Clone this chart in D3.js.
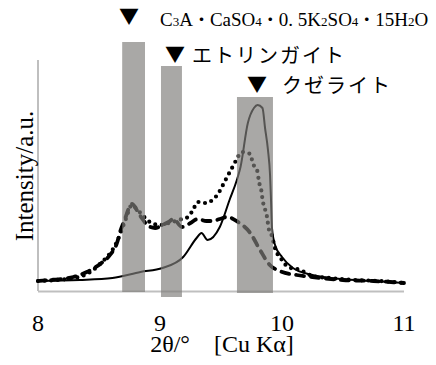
<!DOCTYPE html>
<html><head><meta charset="utf-8">
<script src="https://cdn.jsdelivr.net/npm/d3@7"></script>
<style>html,body{margin:0;padding:0;background:#fff;}svg{display:block;}</style>
</head><body>
<svg id="chart" width="436" height="365"></svg>
<script>
// 2θ (deg) vs intensity (a.u.)
const solidTheta = [8.00,8.34,8.61,8.84,9.02,9.19,9.30,9.34,9.39,9.49,9.57,9.63,9.66,9.72,9.77,9.80,9.84,9.861,9.885,9.902,9.910,9.918,9.943,10.00,10.09,10.25,10.48,10.75,11.00];
const solidI     = [10,11,13,19,23,34,53,58,51,64,91,111,124,168,183,186,183,163,141,116,91,63,46,34,23,16,12,10,8];

const dottedTheta = [8.00,8.30,8.50,8.65,8.72,8.77,8.81,8.84,8.93,9.00,9.10,9.18,9.23,9.27,9.31,9.37,9.43,9.48,9.52,9.55,9.59,9.63,9.67,9.74,9.76,9.80,9.81,9.83,9.84,9.88,9.89,9.92,9.94,10.00,10.05,10.15,10.25,10.39,10.60,10.80,11.00];
const dottedI     = [10,13,26,50,72,86,82,78,68,66,69,72,74,81,89,88,91,98,107,114,123,132,139,137,128,119,110,101,92,72,63,54,44,31,24,21,15,13,11,10,8];

const dashedTheta = [8.00,8.10,8.29,8.40,8.52,8.59,8.65,8.67,8.71,8.75,8.77,8.81,8.85,8.92,8.96,9.02,9.07,9.11,9.18,9.25,9.31,9.38,9.43,9.49,9.55,9.64,9.74,9.82,9.90,9.98,10.12,10.25,10.50,10.75,11.00];
const dashedI     = [10,11,14,19,28,36,49,58,71,84,87,81,73,64,63,66,69,72,64,68,72,70,70,72,74,69,58,41,26,20,16,14,11,10,8];

// shaded peak bands: [start, end] in 2θ, [bottom, top] in intensity units
const bandStart = [8.69, 9.008, 9.631];
const bandEnd   = [8.877, 9.18, 9.926];
const bandBottom = [-1, -6, -2];
const bandTop    = [249, 225, 194];

const xTicks = [8, 9, 10, 11];
const peakLabels = ["C₃A・CaSO₄・0.5K₂SO₄・15H₂O", "エトリンガイト", "クゼライト"];

const svg = d3.select("#chart");
const x = d3.scaleLinear().domain([8, 11]).range([38, 404]);
const y = d3.scaleLinear().domain([0, 231]).range([291, 60]);

const serif = "Liberation Serif, DejaVu Serif, serif";
const jp = "Noto Sans CJK JP, Noto Sans CJK SC, sans-serif";

// axes lines
svg.append("line").attr("x1", x(8)).attr("x2", x(8)).attr("y1", y(0)).attr("y2", y(231))
  .attr("stroke", "#bfbfbf").attr("stroke-width", 2);
svg.append("line").attr("x1", x(8)).attr("x2", x(11)).attr("y1", y(0)+0.5).attr("y2", y(0)+0.5)
  .attr("stroke", "#bfbfbf").attr("stroke-width", 2);

// tick labels
svg.selectAll("text.xt").data(xTicks).enter().append("text")
  .attr("class", "xt").attr("x", d => x(d)).attr("y", 331)
  .attr("text-anchor", "middle").attr("font-family", serif).attr("font-size", 24)
  .attr("fill", "#000").text(d => d);

svg.append("text").attr("x", 222).attr("y", 352).attr("text-anchor", "middle")
  .attr("font-family", serif).attr("font-size", 24).attr("fill", "#000")
  .text("2θ/°\u3000[Cu Kα]");

svg.append("text").attr("transform", "translate(33,176) rotate(-90)")
  .attr("text-anchor", "middle").attr("font-family", serif).attr("font-size", 25)
  .attr("fill", "#000").text("Intensity/a.u.");

const line = d3.line().x(d => x(d[0])).y(d => y(d[1])).curve(d3.curveMonotoneX);

svg.append("path").datum(d3.zip(solidTheta, solidI)).attr("d", line)
  .attr("fill", "none").attr("stroke", "#000").attr("stroke-width", 2);
svg.append("path").datum(d3.zip(dottedTheta, dottedI)).attr("d", line)
  .attr("fill", "none").attr("stroke", "#000").attr("stroke-width", 4.2)
  .attr("stroke-linecap", "round").attr("stroke-dasharray", "0,6.6");
svg.append("path").datum(d3.zip(dashedTheta, dashedI)).attr("d", line)
  .attr("fill", "none").attr("stroke", "#000").attr("stroke-width", 3.8)
  .attr("stroke-linecap", "round").attr("stroke-dasharray", "8,7");

// bands (semi-transparent over curves)
svg.selectAll("rect.band").data(bandStart).enter().append("rect")
  .attr("class", "band")
  .attr("x", (d, i) => x(d)).attr("width", (d, i) => x(bandEnd[i]) - x(d))
  .attr("y", (d, i) => y(bandTop[i])).attr("height", (d, i) => y(bandBottom[i]) - y(bandTop[i]))
  .attr("fill", "#7f7e7a").attr("fill-opacity", 0.67);

// peak labels
function tri(cx, cy) {
  svg.append("text").attr("x", cx).attr("y", cy + 7).attr("text-anchor", "middle")
    .attr("font-family", jp).attr("font-size", 20).attr("fill", "#000").text("▼");
}
tri(129, 17); tri(175, 55); tri(257, 85);

// label 1 with subscripts
const t1 = svg.append("text").attr("x", 160).attr("y", 26).attr("font-family", serif)
  .attr("font-size", 19).attr("fill", "#000");
const parts = [["C",0],["3",1],["A",0],["・",2],["CaSO",0],["4",1],["・",2],["0. 5K",0],["2",1],["SO",0],["4",1],["・",2],["15H",0],["2",1],["O",0]];
parts.forEach(p => {
  const ts = t1.append("tspan").text(p[0]);
  if (p[1] === 1) ts.attr("font-size", 13);
  if (p[1] === 2) ts.attr("font-family", jp).attr("font-size", 17);
});

svg.append("text").attr("x", 192).attr("y", 63).attr("font-family", jp)
  .attr("font-size", 20).attr("letter-spacing", 2).attr("fill", "#000").text(peakLabels[1]);
svg.append("text").attr("x", 282).attr("y", 93).attr("font-family", jp)
  .attr("font-size", 20).attr("letter-spacing", 2).attr("fill", "#000").text(peakLabels[2]);
</script>
</body></html>
